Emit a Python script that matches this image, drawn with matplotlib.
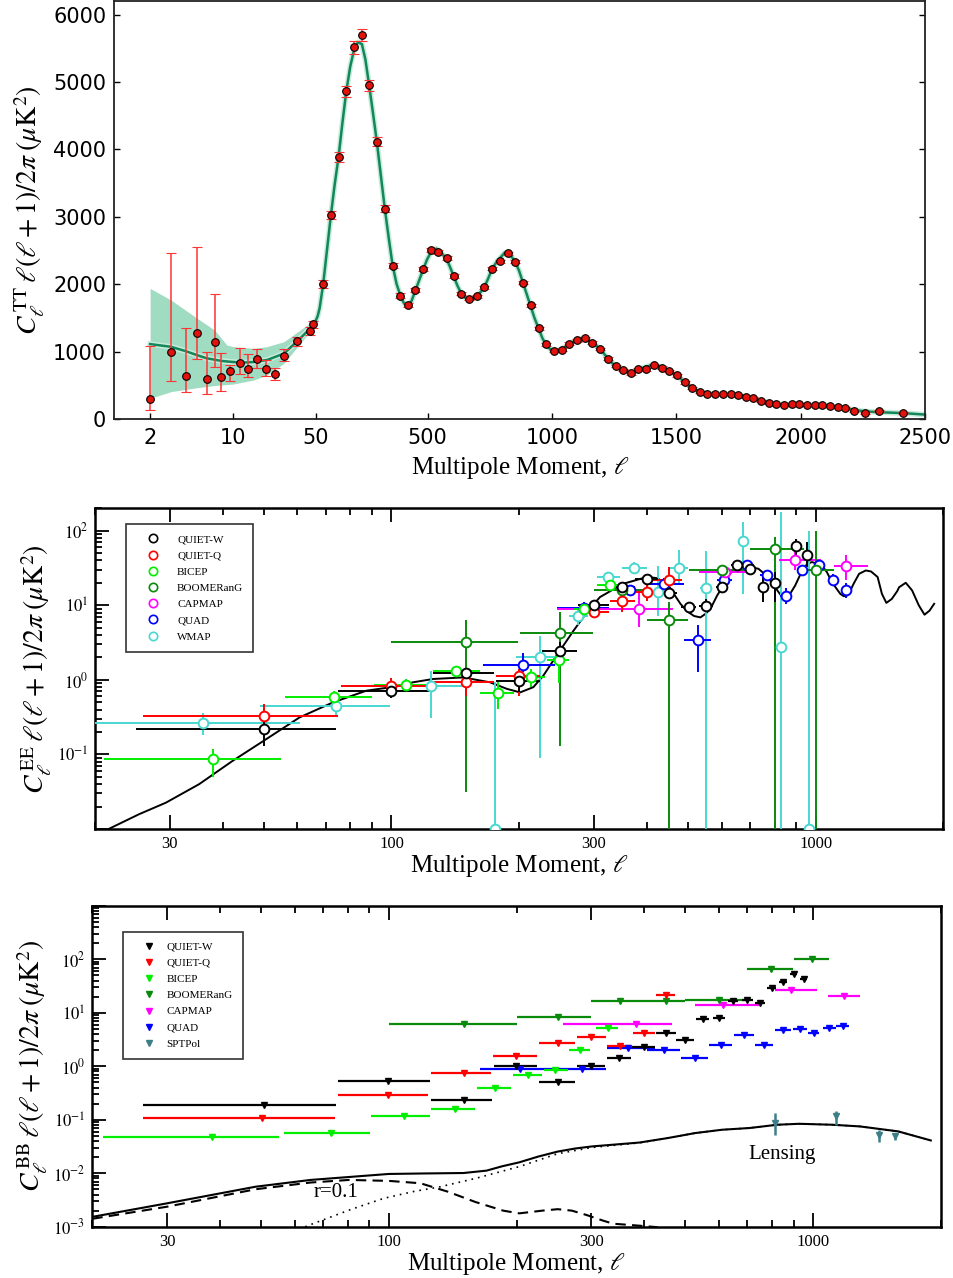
import numpy as np
import matplotlib
matplotlib.use('Agg')
import matplotlib.pyplot as plt
from matplotlib.lines import Line2D
from matplotlib.ticker import FixedLocator, NullFormatter, LogLocator

plt.rcParams['mathtext.fontset'] = 'stix'
SERIF = 'Liberation Serif'

# ---------------- TT spectrum ----------------
# low multipoles: value with lower / upper bounds
tt_low_l = [2, 3, 4, 5, 6, 7, 8, 9.5, 11.5, 13.5, 16, 19, 22.5, 27]
tt_low_dl = [301, 1002, 642, 1279, 593, 1151, 627, 711, 830, 751, 889, 751, 677, 938]
tt_low_lower = [138, 568, 400, 889, 370, 780, 425, 568, 667, 632, 765, 647, 583, 864]
tt_low_upper = [1086, 2459, 1358, 2558, 998, 1857, 988, 800, 1052, 963, 1037, 879, 765, 1037]

# binned high multipoles with symmetric errors
tt_l = [34.5, 44.5, 47, 80, 111, 142, 173, 205, 236, 265, 296, 328, 359, 391, 420, 450,
        482, 514, 543, 576, 605, 636, 667, 699, 728, 759, 791, 823, 853, 884, 914, 947,
        977, 1008, 1040, 1070, 1100, 1131, 1162, 1194, 1225, 1256, 1286, 1317, 1348, 1379,
        1410, 1441, 1471, 1502, 1533, 1563, 1594, 1625, 1656, 1687, 1718, 1748, 1779, 1810,
        1841, 1871, 1902, 1933, 1964, 1995, 2025, 2056, 2087, 2118, 2149, 2179, 2216, 2257,
        2317, 2412]
tt_dl = [1156, 1309, 1407, 2005, 3022, 3886, 4864, 5516, 5699, 4948, 4114, 3121, 2277, 1832,
         1689, 1916, 2222, 2504, 2484, 2395, 2119, 1862, 1788, 1822, 1956, 2232, 2341, 2459,
         2336, 2025, 1689, 1348, 1111, 1012, 1032, 1121, 1170, 1200, 1136, 1042, 899, 790,
         731, 681, 741, 741, 805, 765, 716, 652, 548, 469, 410, 380, 375, 370, 370, 360, 336,
         316, 272, 242, 227, 207, 222, 227, 207, 212, 207, 193, 183, 168, 119, 99, 119, 99]
tt_err = [70, 60, 55, 55, 60, 70, 80, 95, 90, 80, 65, 50, 40, 35, 30, 30, 30, 28, 28, 28, 28,
          25, 25, 25, 25, 25, 25, 25, 25, 25, 25, 22, 22, 20, 20, 20, 20, 20, 20, 20, 20, 18,
          18, 18, 18, 18, 18, 18, 18, 18, 18, 16, 16, 16, 16, 16, 16, 16, 16, 16, 16, 16, 16,
          16, 16, 16, 16, 16, 16, 16, 16, 16, 16, 16, 16, 16]

# best-fit model curve
tt_model_l = [2, 3, 4, 5, 6, 8, 10, 12, 15, 19.5, 27, 37, 44, 50, 58, 66, 80, 95, 111, 126,
              142, 157, 173, 189, 205, 220, 236, 250, 265, 280, 296, 312, 328, 344, 359, 375,
              391, 405, 420, 435, 450, 466, 482, 498, 514, 535, 555, 576, 590, 605, 620, 636,
              651, 667, 683, 699, 714, 728, 744, 759, 775, 791, 810, 830, 853, 868, 884, 899,
              914, 930, 947, 962, 977, 993, 1008, 1024, 1040, 1055, 1070, 1085, 1100, 1115,
              1131, 1146, 1162, 1178, 1194, 1210, 1225, 1241, 1256, 1271, 1286, 1302, 1317,
              1332, 1348, 1363, 1379, 1394, 1410, 1425, 1441, 1456, 1471, 1487, 1502, 1518,
              1533, 1548, 1563, 1579, 1594, 1610, 1625, 1656, 1687, 1718, 1748, 1779, 1810,
              1841, 1871, 1902, 1933, 1964, 1995, 2025, 2056, 2087, 2118, 2149, 2179, 2216,
              2257, 2317, 2412, 2500]
tt_model_dl = [1115, 1075, 1010, 950, 905, 865, 850, 840, 850, 880, 975, 1200, 1330, 1460,
               1530, 1650, 2000, 2500, 3020, 3470, 3890, 4380, 4860, 5230, 5490, 5590, 5560,
               5330, 4950, 4550, 4110, 3620, 3120, 2680, 2290, 2010, 1830, 1720, 1680, 1750,
               1900, 2060, 2220, 2370, 2480, 2530, 2470, 2380, 2260, 2120, 1980, 1860, 1800,
               1780, 1790, 1830, 1890, 1960, 2090, 2230, 2320, 2390, 2470, 2450, 2330, 2200,
               2020, 1850, 1680, 1500, 1340, 1200, 1100, 1040, 1015, 1020, 1040, 1080, 1120,
               1150, 1175, 1195, 1200, 1175, 1135, 1090, 1040, 970, 900, 840, 790, 755, 725,
               705, 695, 710, 735, 760, 780, 795, 800, 790, 770, 745, 715, 685, 650, 600, 548,
               505, 470, 435, 410, 392, 382, 375, 370, 368, 358, 336, 312, 275, 245, 228, 218,
               216, 215, 210, 206, 200, 190, 178, 162, 140, 118, 105, 92, 70]

# cosmic-variance band at low multipoles
band_l = [2, 3, 5, 7, 8.9, 10.1, 15, 19.4, 27, 37, 50]
band_lo = [311, 410, 469, 500, 515, 523, 583, 657, 830, 1126, 1398]
band_hi = [1941, 1768, 1496, 1323, 1101, 1077, 1052, 1077, 1151, 1323, 1496]

# ---------------- EE spectrum: (l, value, l_lo, l_hi, v_lo, v_hi) ----------------
ee_quiet_w = [(50, 0.223, 25, 74, 0.131, 0.315), (100, 0.718, 75, 124, 0.58, 0.86),
              (150, 1.23, 125, 174, 1.05, 1.42), (200, 0.96, 176, 224, 0.68, 1.14),
              (250, 2.47, 226, 274, 1.9, 3.2), (300, 10.2, 276, 325, 8.8, 11.8),
              (350, 17.7, 326, 376, 15.5, 20.5), (400, 22.8, 376, 425, 20.5, 25.5),
              (450, 14.7, 430, 470, 12.5, 17.5), (502, 9.46, 482, 522, 8.0, 11.2),
              (552, 9.95, 532, 572, 8.3, 12.0), (603, 17.6, 583, 623, 15.0, 21.0),
              (652, 34.4, 632, 672, 30, 39), (702, 31, 682, 722, 27, 36),
              (752, 17.9, 735, 770, 11, 24), (802, 19.8, 785, 820, 11, 28),
              (899, 62, 885, 915, 47, 78), (955, 47.8, 940, 970, 32.6, 70)]
ee_quiet_q = [(50, 0.324, 26, 75, 0.24, 0.47), (100, 0.84, 76, 124, 0.62, 1.05),
              (150, 0.93, 126, 174, 0.61, 1.14), (200, 1.12, 176, 224, 0.61, 1.4),
              (300, 8.1, 276, 325, 6.8, 9.6), (350, 11.6, 328, 376, 8.1, 15),
              (400, 15, 378, 424, 11.5, 19), (450, 21.6, 408, 484, 15, 32.6)]
ee_bicep = [(38, 0.087, 21, 55, 0.05, 0.12), (73, 0.584, 56, 90, 0.48, 0.72),
            (108, 0.865, 91, 124, 0.68, 1.03), (142, 1.30, 125, 162, 1.1, 1.5),
            (178, 0.67, 162, 194, 0.41, 0.93), (213, 1.08, 202, 230, 0.8, 1.4),
            (248, 1.86, 232, 262, 0.9, 2.6), (284, 9.0, 270, 298, 7.8, 10.5),
            (328, 18.5, 305, 346, 15.5, 21.5)]
ee_boomerang = [(150, 3.2, 100, 199, 0.031, 6.3), (250, 4.28, 201, 299, 0.13, 8.25),
                (350, 16.0, 300, 400, 12, 20), (450, 6.27, 400, 500, 0.001, 11),
                (603, 29.4, 502, 708, 24, 35), (800, 57.5, 700, 939, 0.001, 82.5),
                (1004, 30, 923, 1106, 0.001, 101)]
ee_capmap = [(384, 9.0, 245, 462, 5.1, 16), (613, 28, 530, 700, 22, 34),
             (893, 41, 820, 1028, 30, 55), (1182, 33.3, 1106, 1330, 21.6, 48)]
ee_quad = [(204, 1.59, 164, 243, 1.26, 2.3), (285, 9.2, 246, 325, 7.5, 11),
           (365, 16.3, 330, 400, 14, 19), (438, 19.5, 408, 489, 16.5, 23),
           (528, 3.45, 489, 566, 1.26, 5.5), (609, 21.6, 585, 635, 18, 26),
           (688, 34.4, 660, 715, 30, 39), (768, 25.7, 740, 795, 22, 30),
           (852, 13.3, 825, 880, 10.5, 17), (931, 29.4, 905, 958, 25, 34),
           (1019, 34.4, 990, 1048, 30, 39), (1100, 22.2, 1068, 1132, 19, 26),
           (1177, 15.9, 1145, 1210, 12.5, 20)]
ee_wmap = [(36, 0.264, 19, 61, 0.18, 0.36), (74, 0.442, 49, 99, 0.33, 0.55),
           (124, 0.84, 100, 150, 0.31, 1.33), (175, 0.0101, 175, 175, 0.001, 0.93),
           (224, 2.0, 197, 252, 0.091, 3.94), (276, 7.3, 262, 290, 5.5, 9.5),
           (324, 24, 305, 345, 20, 28), (373, 32, 349, 400, 26, 38),
           (424, 15, 424, 424, 7.3, 34), (476, 32, 450, 500, 18.5, 54.6),
           (550, 17.2, 535, 565, 0.001, 54), (674, 73, 674, 674, 14.3, 131),
           (827, 2.8, 827, 827, 0.001, 178), (967, 0.0101, 967, 967, 0.001, 101)]

ee_model_l = [21.6, 25.4, 29.4, 35.2, 42.2, 50, 60.7, 72.8, 87.3, 100, 112.5, 125.4, 147.6,
              170.7, 187, 201, 216, 228, 245, 268.8, 289, 310, 346, 352, 400, 423.5, 450,
              463, 480, 498, 517, 535, 550, 565, 586, 603, 624, 651, 676, 702, 733, 768, 797,
              826, 849, 872, 895, 922, 955, 981, 1008, 1034, 1063, 1092, 1143, 1164, 1187,
              1208, 1229, 1266, 1313, 1351, 1400, 1433, 1468, 1512, 1557, 1573, 1631, 1688,
              1751, 1806, 1856, 1903]
ee_model_cl = [0.0101, 0.0158, 0.0226, 0.040, 0.082, 0.153, 0.314, 0.50, 0.718, 0.80, 0.93,
               1.03, 1.08, 0.93, 0.76, 0.68, 0.80, 1.14, 2.12, 4.6, 8.1, 12.9, 18.5, 19.5,
               24.0, 23.2, 18.5, 14.3, 10.5, 8.3, 7.2, 6.9, 7.7, 9.0, 13.6, 17.6, 25.2, 34.4,
               34.4, 32.6, 31.0, 24.7, 18.5, 13.9, 12.3, 14.5, 18.5, 26.6, 36.2, 38.1, 36.2,
               34.4, 28.0, 20.5, 14.3, 13.3, 13.6, 15.9, 19.5, 26.5, 29.4, 28.5, 24.0, 14.3,
               10.8, 12.2, 15.5, 17.5, 20.1, 15.9, 10.0, 7.5, 8.5, 10.5]

# ---------------- BB upper limits: (l, value, l_lo, l_hi) ----------------
bb_quiet_w = [(50.8, 0.185, 26.3, 74.9), (99.7, 0.54, 75.8, 125.3), (150, 0.237, 126, 175),
              (199.5, 1.03, 177, 223), (250, 0.516, 226, 274), (300, 1.0, 277, 324),
              (349, 1.41, 326, 373), (399, 2.31, 375, 424), (450, 4.23, 426, 474),
              (500, 3.07, 476, 524), (550, 7.7, 530, 570), (601, 8.1, 580, 620),
              (647, 16.6, 630, 665), (700, 17.3, 680, 720), (749, 15.5, 730, 770),
              (800, 29.5, 780, 820), (848, 38.2, 830, 866), (900, 54, 882, 918),
              (951, 42.3, 932, 970)]
bb_quiet_q = [(50.2, 0.109, 26.3, 74.5), (99.7, 0.286, 76, 124), (150, 0.75, 126, 174),
              (199.5, 1.54, 176, 224), (250, 2.75, 226, 274), (300, 3.56, 277, 325),
              (350, 2.37, 327, 373), (400, 4.23, 377, 424), (449, 21.5, 427, 472)]
bb_bicep = [(38.2, 0.0486, 21.2, 55.1), (73.2, 0.0563, 56.5, 90.2), (108.5, 0.119, 91, 125),
            (143, 0.161, 126, 160), (178, 0.393, 161, 194), (213, 0.678, 196, 230),
            (247, 0.84, 232, 264), (282, 2.05, 266, 298), (328, 5.1, 308, 346)]
bb_boomerang = [(150, 6.05, 100, 200), (250, 8.3, 200, 300), (350, 16.6, 300, 398),
                (449, 16.6, 398, 499), (600, 17.1, 499, 697), (798, 67, 700, 899),
                (995, 100, 900, 1092)]
bb_capmap = [(383, 6.05, 258, 464), (613, 13.7, 526, 745), (887, 26.7, 814, 1023),
             (1180, 20.5, 1085, 1290)]
bb_quad = [(204, 0.87, 164, 235), (285, 0.9, 235, 325), (366, 2.21, 326, 424),
           (446, 2.0, 406, 486), (527, 1.41, 488, 565), (606, 2.48, 570, 645),
           (688, 3.76, 650, 725), (767, 2.45, 730, 805), (848, 4.73, 815, 885),
           (931, 4.88, 897, 968), (1003, 4.1, 975, 1035), (1092, 5.25, 1055, 1130),
           (1174, 5.63, 1135, 1215)]
# SPTPol detections: (l, value, v_lo, v_hi)
bb_sptpol = [(815, 0.0867, 0.0522, 0.134), (1130, 0.115, 0.081, 0.148),
             (1429, 0.052, 0.039, 0.063), (1558, 0.050, 0.041, 0.056)]

bb_total_l = [20, 30, 48.5, 65.4, 100, 120, 150, 170, 185, 203, 225, 250, 275, 301, 390, 454,
              527, 610, 708, 823, 927, 1110, 1290, 1587, 1895]
bb_total_cl = [0.00153, 0.00274, 0.0056, 0.0075, 0.0097, 0.0099, 0.0101, 0.0112, 0.0135,
               0.0160, 0.0205, 0.0254, 0.029, 0.0317, 0.0375, 0.0454, 0.0563, 0.065, 0.070,
               0.0806, 0.084, 0.0806, 0.075, 0.0606, 0.041]
bb_tensor_l = [20, 30, 48.5, 65.4, 80.6, 100, 118.7, 138, 160, 186, 203, 230, 250, 270, 293,
               320, 338, 400, 430]
bb_tensor_cl = [0.00141, 0.00237, 0.00502, 0.00671, 0.0075, 0.0072, 0.0065, 0.0045, 0.0029,
                0.0020, 0.00178, 0.0020, 0.00213, 0.0020, 0.00165, 0.0013, 0.00114, 0.00103,
                0.00098]
bb_lens_l = [63.5, 66.6, 81.3, 97.3, 115, 131, 160, 203, 250, 301, 390, 454, 527, 610, 708,
             823, 927, 1110, 1290, 1587, 1895]
bb_lens_cl = [0.001, 0.00116, 0.0021, 0.0034, 0.0046, 0.0055, 0.0080, 0.0133, 0.0232, 0.0303,
              0.037, 0.0454, 0.0563, 0.065, 0.070, 0.0806, 0.084, 0.0806, 0.075, 0.0606, 0.041]

experiments = ['QUIET-W', 'QUIET-Q', 'BICEP', 'BOOMERanG', 'CAPMAP', 'QUAD']
exp_colors = ['#000000', '#ff0000', '#00ee00', '#0a8a0a', '#ff00ff', '#0000ff']
wmap_color = '#48d8d0'
spt_color = '#3c7f88'


# hybrid axis: logarithmic below l=50, linear above
LIN_SLOPE = 0.0021


def tt_fwd(l):
    l = np.asarray(l, dtype=float)
    lg = np.log10(np.clip(l, 1e-3, 50))
    return np.where(l <= 50, lg, np.log10(50) + (l - 50) * LIN_SLOPE)


def tt_inv(u):
    u = np.asarray(u, dtype=float)
    cut = np.log10(50)
    return np.where(u <= cut, 10 ** np.minimum(u, cut), 50 + (u - cut) / LIN_SLOPE)


def style_log_panel(ax, ylim, ytick_exps, ylabels):
    ax.set_xscale('log')
    ax.set_yscale('log')
    ax.set_xlim(20, 2000)
    ax.set_ylim(*ylim)
    ax.xaxis.set_major_locator(FixedLocator([30, 100, 300, 1000]))
    ax.xaxis.set_minor_locator(FixedLocator([20, 40, 50, 60, 70, 80, 90, 200, 400, 500,
                                             600, 700, 800, 900, 2000]))
    ax.xaxis.set_minor_formatter(NullFormatter())
    ax.set_xticklabels(['30', '100', '300', '1000'])
    ax.set_yticks([10.0 ** d for d in ytick_exps])
    ax.set_yticklabels(ylabels)
    ax.yaxis.set_minor_locator(LogLocator(base=10, subs=range(2, 10), numticks=20))
    ax.yaxis.set_minor_formatter(NullFormatter())
    ax.tick_params(which='both', direction='in', top=True, bottom=True, left=True,
                   right=False, width=1.3)
    ax.tick_params(which='major', length=10, labelsize=12, pad=5)
    ax.tick_params(which='minor', length=5)
    for lab in ax.get_xticklabels() + ax.get_yticklabels():
        lab.set_fontfamily(SERIF)
    for sp in ax.spines.values():
        sp.set_linewidth(1.8)
    ax.set_xlabel(r'Multipole Moment, $\ell$', fontfamily=SERIF, fontsize=18, labelpad=1)


fig = plt.figure(figsize=(9.54, 12.78), dpi=100)

# ---------- TT panel ----------
ax1 = fig.add_axes([0.120, 0.6719, 0.8496, 0.3273])
ax1.set_xscale('function', functions=(tt_fwd, tt_inv))
ax1.set_xlim(1, 2500)
ax1.set_ylim(0, 6200)
ax1.fill_between(band_l, band_lo, band_hi, color='#9fdcc2', lw=0, zorder=1)
ax1.plot(tt_model_l, tt_model_dl, color='#c8ecdc', lw=4, zorder=1.5)
ax1.plot(tt_model_l, tt_model_dl, color='#12875a', lw=1.8, zorder=2)
ax1.errorbar(tt_low_l, tt_low_dl,
             yerr=[np.subtract(tt_low_dl, tt_low_lower), np.subtract(tt_low_upper, tt_low_dl)],
             fmt='o', ms=5.5, mfc='#e4120c', mec='black', mew=0.8, ecolor='#ff3333',
             elinewidth=1.1, capsize=3.5, capthick=1.1, zorder=3)
ax1.errorbar(tt_l, tt_dl, yerr=tt_err, fmt='o', ms=5.5, mfc='#e4120c', mec='black', mew=0.8,
             ecolor='#ff3333', elinewidth=1.1, capsize=3.5, capthick=1.1, zorder=3)
ax1.set_xticks([2, 10, 50, 500, 1000, 1500, 2000, 2500])
ax1.set_xticklabels(['2', '10', '50', '500', '1000', '1500', '2000', '2500'])
ax1.xaxis.set_minor_locator(FixedLocator([]))
ax1.set_yticks(range(0, 7000, 1000))
ax1.tick_params(direction='in', right=True, top=False, length=4, width=1,
                labelsize=15, pad=6)
for sp in ax1.spines.values():
    sp.set_linewidth(1.3)
    sp.set_color('#222222')
ax1.set_xlabel(r'Multipole Moment, $\ell$', fontfamily=SERIF, fontsize=18, labelpad=5)
ax1.set_ylabel(r'$C_\ell^{\,\mathrm{TT}}\,\ell(\ell+1)/2\pi\;(\mu\mathrm{K}^2)$',
               fontsize=20, labelpad=4)

# ---------- EE panel ----------
ax2 = fig.add_axes([0.0996, 0.3513, 0.8892, 0.2509])
ax2.plot(ee_model_l, ee_model_cl, color='black', lw=1.4, zorder=2)
ee_sets = [ee_quiet_w, ee_quiet_q, ee_bicep, ee_boomerang, ee_capmap, ee_quad, ee_wmap]
ee_colors = exp_colors + [wmap_color]
ee_names = experiments + ['WMAP']
for pts, col in zip(reversed(ee_sets), reversed(ee_colors)):
    l, v, llo, lhi, vlo, vhi = map(np.array, zip(*pts))
    ax2.errorbar(l, v, xerr=[l - llo, lhi - l], yerr=[v - vlo, vhi - v], fmt='o', ms=7,
                 mfc='white', mec=col, mew=1.4, ecolor=col, elinewidth=1.4, zorder=3)
style_log_panel(ax2, (0.01, 200), [-2, -1, 0, 1, 2],
                ['', r'$10^{-1}$', r'$10^{0}$', r'$10^{1}$', r'$10^{2}$'])
ax2.set_ylabel(r'$C_\ell^{\,\mathrm{EE}}\,\ell(\ell+1)/2\pi\;(\mu\mathrm{K}^2)$',
               fontsize=20, labelpad=2)
ee_handles = [Line2D([], [], ls='none', marker='o', ms=6, mfc='none', mec=c, mew=1.2)
              for c in ee_colors]
leg2 = ax2.legend(ee_handles, ee_names, loc='upper left', bbox_to_anchor=(0.0365, 0.95),
                  borderaxespad=0, frameon=True, fancybox=False, edgecolor='black',
                  prop={'family': SERIF, 'size': 8}, handlelength=3.0,
                  handletextpad=0.7, labelspacing=0.58, borderpad=0.9)
leg2.get_frame().set_linewidth(1.2)

# ---------- BB panel ----------
ax3 = fig.add_axes([0.0968, 0.0401, 0.8893, 0.2512])
ax3.plot(bb_total_l, bb_total_cl, color='black', lw=1.5, zorder=2)
ax3.plot(bb_tensor_l, bb_tensor_cl, color='black', lw=1.5, ls=(0, (5, 3)), zorder=2)
ax3.plot(bb_lens_l, bb_lens_cl, color='black', lw=1.2, ls=(0, (1, 3)), zorder=2)
bb_sets = [bb_quiet_w, bb_quiet_q, bb_bicep, bb_boomerang, bb_capmap, bb_quad]
for pts, col in zip(reversed(bb_sets), reversed(exp_colors)):
    l, v, llo, lhi = map(np.array, zip(*pts))
    ax3.errorbar(l, v, xerr=[l - llo, lhi - l], fmt='v', ms=5, mfc=col, mec=col,
                 ecolor=col, elinewidth=1.6, zorder=3)
sl, sv, slo, shi = map(np.array, zip(*bb_sptpol))
ax3.errorbar(sl, sv, yerr=[sv - slo, shi - sv], fmt='v', ms=5, mfc=spt_color, mec=spt_color,
             ecolor=spt_color, elinewidth=1.8, zorder=3)
style_log_panel(ax3, (1e-3, 1e3), [-3, -2, -1, 0, 1, 2, 3],
                [r'$10^{-3}$', r'$10^{-2}$', r'$10^{-1}$', r'$10^{0}$', r'$10^{1}$',
                 r'$10^{2}$', ''])
ax3.set_ylabel(r'$C_\ell^{\,\mathrm{BB}}\,\ell(\ell+1)/2\pi\;(\mu\mathrm{K}^2)$',
               fontsize=20, labelpad=2)
ax3.text(75, 0.0043, 'r=0.1', fontfamily=SERIF, fontsize=15, ha='center', va='center')
ax3.text(847, 0.022, 'Lensing', fontfamily=SERIF, fontsize=15, ha='center', va='center')
bb_handles = [Line2D([], [], ls='none', marker='v', ms=5, mfc=c, mec=c)
              for c in exp_colors + [spt_color]]
leg3 = ax3.legend(bb_handles, experiments + ['SPTPol'], loc='upper left',
                  bbox_to_anchor=(0.0358, 0.919), borderaxespad=0, frameon=True,
                  fancybox=False, edgecolor='black', prop={'family': SERIF, 'size': 8},
                  handlelength=2.9, handletextpad=0.15, labelspacing=0.58, borderpad=0.9)
leg3.get_frame().set_linewidth(1.2)

fig.savefig('out.png', dpi=100, facecolor='white')
